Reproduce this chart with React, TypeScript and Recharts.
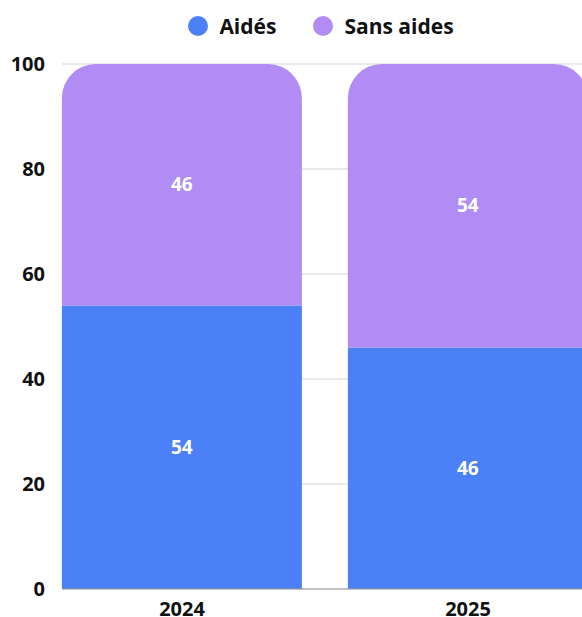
import React from 'react';
import { BarChart, Bar, XAxis, YAxis, CartesianGrid, Legend, LabelList } from 'recharts';

const years = ['2024', '2025'];
const aides = [54, 46];
const sansAides = [46, 54];
const yTicks = [0, 20, 40, 60, 80, 100];

const data = years.map((y, i) => ({ year: y, aides: aides[i], sansAides: sansAides[i] }));

const FONT = '"Open Sans", "Noto Sans", sans-serif';
const BLUE = '#4B80F7';
const PURPLE = '#B08CF4';

const LegendContent = (props: any) => {
  const payload = props.payload || [];
  return (
    <div
      style={{
        height: 56,
        boxSizing: 'border-box',
        paddingTop: 6,
        paddingLeft: 52,
        display: 'flex',
        justifyContent: 'center',
        alignItems: 'flex-start',
        fontFamily: FONT,
      }}
    >
      {payload.map((p: any, i: number) => (
        <div key={i} style={{ display: 'flex', alignItems: 'center', marginLeft: i ? 37 : 0, height: 24 }}>
          <span
            style={{
              width: 20,
              height: 20,
              borderRadius: '50%',
              background: p.color,
              display: 'inline-block',
              marginRight: 11,
            }}
          />
          <span style={{ fontWeight: 700, fontSize: 21, color: '#111', lineHeight: '24px' }}>{p.value}</span>
        </div>
      ))}
    </div>
  );
};

export default function App() {
  return (
    <div style={{ position: 'absolute', top: 8, left: 8, width: 574, height: 609, overflow: 'hidden', fontFamily: FONT }}>
      <BarChart
        width={574}
        height={609}
        data={data}
        margin={{ top: 0, right: 0, bottom: 0, left: 0 }}
        barCategoryGap="8%"
      >
        <Legend verticalAlign="top" content={<LegendContent />} />
        <CartesianGrid vertical={false} stroke="#d3d3d3" />
        <XAxis
          dataKey="year"
          height={28}
          tickLine={false}
          axisLine={{ stroke: '#9a9a9a' }}
          tickMargin={7}
          padding={{ left: -23, right: -29 }}
          tick={{ fontSize: 20, fontWeight: 700, fill: '#111', fontFamily: FONT }}
        />
        <YAxis
          width={54}
          domain={[0, 100]}
          ticks={yTicks}
          tickLine={false}
          axisLine={false}
          tickSize={0}
          tickMargin={17}
          tick={{ fontSize: 20, fontWeight: 700, fill: '#111', fontFamily: FONT }}
        />
        <Bar dataKey="aides" name="Aidés" stackId="a" fill={BLUE} isAnimationActive={false}>
          <LabelList dataKey="aides" position="center" fill="#fff" fontSize={19} fontWeight={700} fontFamily={FONT} />
        </Bar>
        <Bar dataKey="sansAides" name="Sans aides" stackId="a" fill={PURPLE} radius={[34, 34, 0, 0]} isAnimationActive={false}>
          <LabelList dataKey="sansAides" position="center" fill="#fff" fontSize={19} fontWeight={700} fontFamily={FONT} />
        </Bar>
      </BarChart>
    </div>
  );
}
